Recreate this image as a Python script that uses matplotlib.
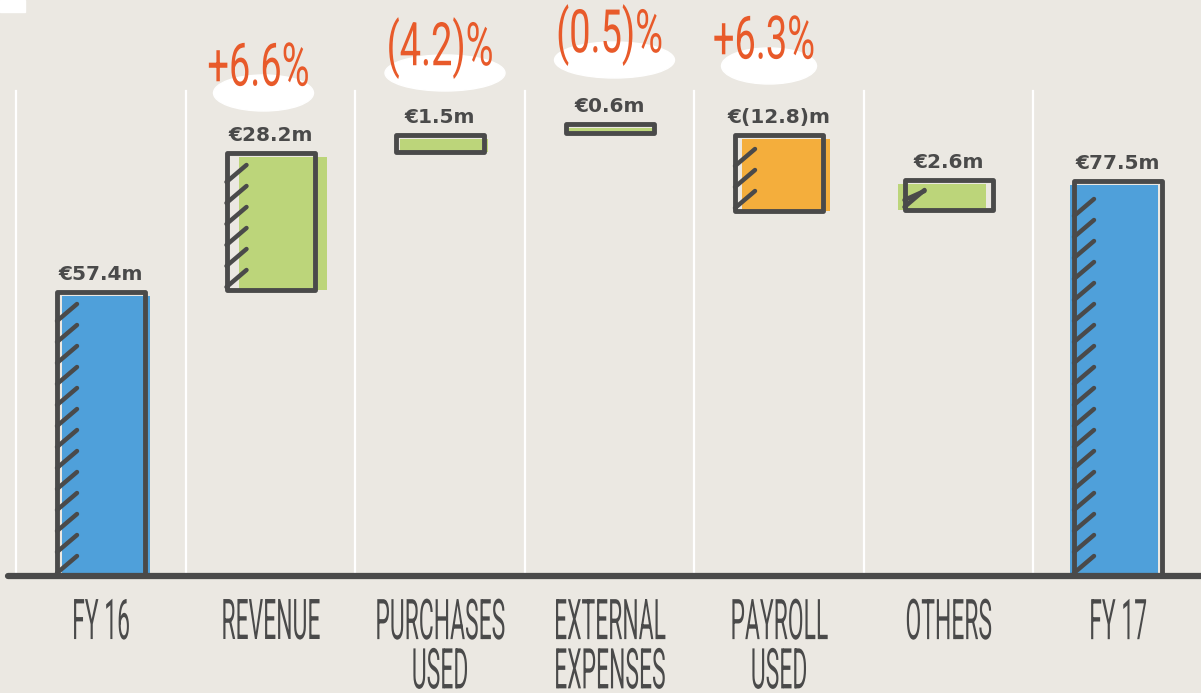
import numpy as np
import matplotlib.pyplot as plt
from matplotlib.patches import Ellipse, Rectangle
from matplotlib.patheffects import AbstractPathEffect
from matplotlib.transforms import Affine2D

# data (EUR m)
categories = ['FY 16', 'REVENUE', 'PURCHASES\nUSED', 'EXTERNAL\nEXPENSES', 'PAYROLL\nUSED', 'OTHERS', 'FY 17']
value_labels = ['€57.4m', '€28.2m', '€1.5m', '€0.6m', '€(12.8)m', '€2.6m', '€77.5m']
bar_low = [0, 57.2, 84.8, 88.6, 73.0, 73.2, 0]
bar_high = [56.8, 84.6, 88.2, 90.4, 88.2, 79.2, 79.0]
kinds = ['total', 'up', 'up', 'up', 'down', 'up', 'total']
pct_labels = ['', '+6.6%', '(4.2)%', '(0.5)%', '+6.3%', '', '']

# layout / style
pct_y = [0, 101.6, 105.6, 108.2, 107.0, 0, 0]
pct_dx_px = [0, -12, 0, 0, -15, 0, 0]
ell_w_px = [0, 100, 120, 120, 95, 0, 0]
fill_shift_px = [5, 12, 4, 0, 7, -7, -4]
colors = {'total': '#4fa0da', 'up': '#bcd57a', 'down': '#f4ae3c'}
ink = '#4a4a4a'
orange = '#e85a2a'
bg = '#ebe8e2'
px_x = 169.5   # pixels per category
px_y = 5.0     # pixels per EUR m
bar_w = 88 / px_x


class Squeeze(AbstractPathEffect):
    """draw text narrower / taller, like the condensed hand font"""
    def __init__(self, sx, sy):
        super().__init__()
        self.sx, self.sy = sx, sy

    def draw_path(self, renderer, gc, tpath, affine, rgbFace=None):
        bb = tpath.get_extents(affine)
        cx, cy = (bb.x0 + bb.x1) / 2, (bb.y0 + bb.y1) / 2
        t = affine + Affine2D().translate(-cx, -cy).scale(self.sx, self.sy).translate(cx, cy)
        renderer.draw_path(gc, tpath, t, rgbFace)


fig = plt.figure(figsize=(12.01, 6.93), dpi=100, facecolor=bg)
ax = fig.add_axes([0, 0, 1, 1])
ax.set_facecolor(bg)
ax.set_xlim(-101 / px_x, 1100 / px_x)
ax.set_ylim(-117 / px_y, 576 / px_y)
ax.axis('off')

x = np.arange(len(categories))

# white separators
for sx in np.arange(-0.5, len(categories) - 0.4, 1.0):
    ax.plot([sx, sx], [0, 97], color='white', lw=1.6, zorder=1)

# base line
ax.plot([-93 / px_x, 1100 / px_x], [0, 0], color=ink, lw=4.5, solid_capstyle='round', zorder=6)

for i in range(len(categories)):
    lo, hi = bar_low[i], bar_high[i]
    h = hi - lo
    # fill, a bit off the outline like a sketch
    ax.bar(x[i] + fill_shift_px[i] / px_x, h - 0.8, bottom=lo, width=bar_w,
           color=colors[kinds[i]], zorder=2)
    ax.bar(x[i], h, bottom=lo, width=bar_w, fill=False,
           edgecolor=ink, lw=3.5, joinstyle='round', zorder=4)

    # hand hatch strokes on the left edge
    xl = x[i] - bar_w / 2
    y0 = lo + 0.6
    while y0 + 3.4 <= hi - 1.0:
        ax.plot([xl, xl + 20 / px_x], [y0, y0 + 3.4], color=ink, lw=3.2,
                solid_capstyle='round', zorder=5)
        y0 += 4.2
    if 4 < h < 8:
        ax.plot([xl, xl + 20 / px_x], [lo + 2.0, lo + 3.8], color=ink, lw=3.2,
                solid_capstyle='round', zorder=5)

    ax.text(x[i], hi + 1.6, value_labels[i], ha='center', va='bottom',
            fontsize=14.5, fontweight='bold', color=ink, zorder=7)

    ax.text(x[i], -6.2, categories[i], ha='center', va='top', fontsize=22,
            family='Roboto', color=ink, linespacing=1.88,
            path_effects=[Squeeze(0.75, 1.84)], zorder=7)

    if pct_labels[i]:
        px = x[i] + pct_dx_px[i] / px_x
        ax.add_patch(Ellipse((px + 5 / px_x, pct_y[i] - 5.0), ell_w_px[i] / px_x, 36 / px_y,
                             color='white', zorder=6))
        ax.text(px, pct_y[i], pct_labels[i], ha='center', va='center',
                fontsize=36, family='Roboto', color=orange,
                path_effects=[Squeeze(0.76, 1.2)], zorder=7)

# small white patch in the corner
fig.patches.append(Rectangle((0, 681 / 693), 25 / 1201, 12 / 693, transform=fig.transFigure,
                             color='white', zorder=10))

fig.savefig('out.png', dpi=100, facecolor=bg)
